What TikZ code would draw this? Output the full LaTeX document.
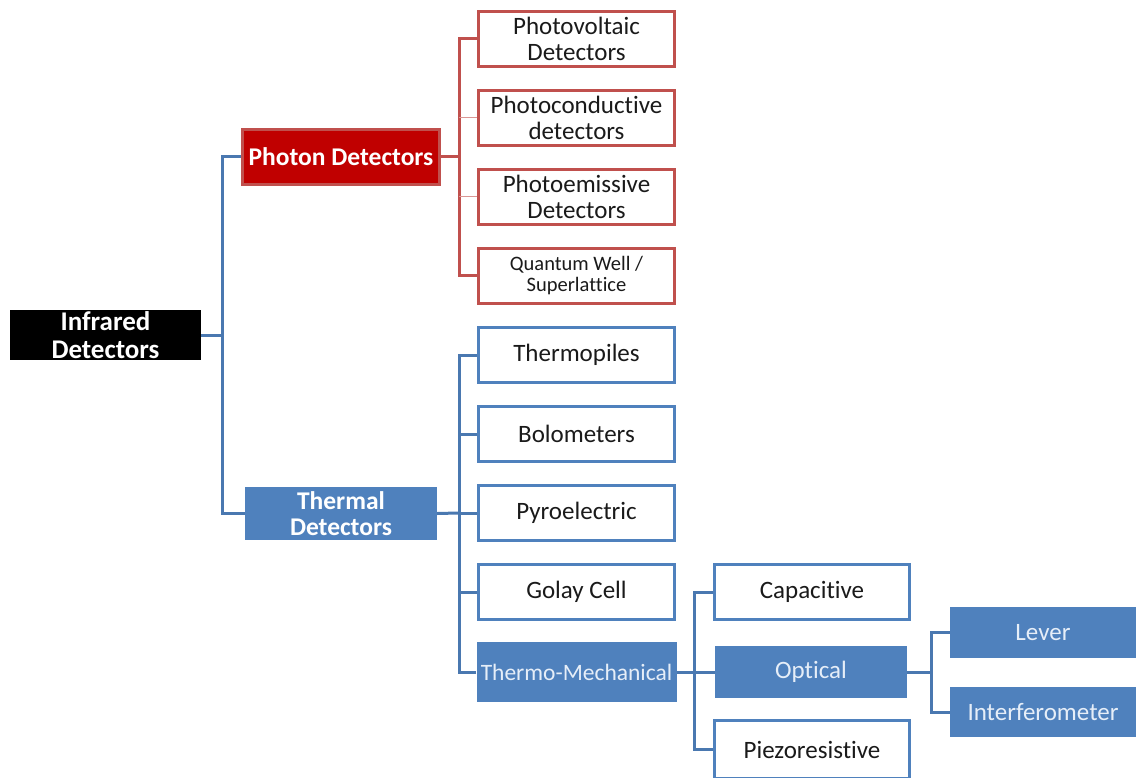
\documentclass[tikz,border=0pt]{standalone}
\usepackage{fontspec}
\setmainfont{Carlito}[Ligatures=NoCommon]
\definecolor{bl}{HTML}{4F81BD}
\definecolor{blc}{HTML}{4A78B0}
\definecolor{rd}{HTML}{C0504D}
\definecolor{drd}{HTML}{C00000}
\definecolor{lt}{HTML}{E6EEF8}
\definecolor{tx}{HTML}{1A1A1A}
\tikzset{
  base/.style={rectangle, inner sep=0pt, align=center, font=\fontsize{25}{26}\selectfont},
  redbox/.style={base, draw=rd, line width=3pt, fill=white, text=tx, minimum width=199pt, minimum height=58pt},
  bluebox/.style={base, draw=bl, line width=3pt, fill=white, text=tx, minimum width=199pt, minimum height=58pt},
  fillbox/.style={base, fill=bl, text=lt, minimum width=199pt, minimum height=58pt},
  conn/.style={draw=blc, line width=3pt, line join=miter},
  rconn/.style={draw=rd, line width=3pt},
  rthin/.style={draw=rd!60, line width=1pt},
}
\begin{document}
\begin{tikzpicture}[x=1pt,y=-1pt]
\useasboundingbox (0,0) rectangle (1136,778);
% main nodes
\node[base, fill=black, text=white, font=\bfseries\fontsize{27}{28}\selectfont, minimum width=191pt, minimum height=50pt] (root) at (105.5,335) {Infrared\\Detectors};
\node[base, fill=drd, draw=rd, line width=3pt, text=white, font=\bfseries\fontsize{25.5}{26}\selectfont, minimum width=197pt, minimum height=55pt] (photon) at (341,157) {Photon Detectors};
\node[fillbox, text=white, font=\bfseries\fontsize{25.5}{26}\selectfont, minimum width=192pt, minimum height=53pt] (thermal) at (341,513.5) {Thermal\\Detectors};
% photon children
\node[redbox, minimum width=196pt, minimum height=55pt] (pv) at (576.5,39) {Photovoltaic\\Detectors};
\node[redbox, minimum width=196pt, minimum height=55pt] (pc) at (576.5,118) {Photoconductive\\detectors};
\node[redbox, minimum width=196pt, minimum height=55pt] (pe) at (576.5,197) {Photoemissive\\Detectors};
\node[redbox, minimum width=196pt, minimum height=55pt, font=\fontsize{20.5}{21}\selectfont] (qw) at (576.5,276) {Quantum Well /\\Superlattice};
% thermal children
\node[bluebox, minimum width=196pt, minimum height=55pt] (tp) at (576.5,355) {Thermopiles};
\node[bluebox, minimum width=196pt, minimum height=55pt] (bo) at (576.5,434) {Bolometers};
\node[bluebox, minimum width=196pt, minimum height=55pt] (py) at (576.5,513) {Pyroelectric};
\node[bluebox, minimum width=196pt, minimum height=55pt] (gc) at (576.5,592) {Golay Cell};
\node[fillbox, minimum width=200pt, minimum height=60pt, font=\fontsize{23.5}{25}\selectfont] (tm) at (576.5,672) {Thermo-Mechanical};
% thermo-mechanical children
\node[bluebox, minimum width=195pt, minimum height=55pt] (cap) at (812,592) {Capacitive};
\node[fillbox, minimum width=192pt, minimum height=52pt] (opt) at (811,672) {Optical};
\node[bluebox, minimum width=195pt, minimum height=58pt] (pz) at (812,749.5) {Piezoresistive};
% optical children
\node[fillbox, minimum width=186pt, minimum height=51pt] (lev) at (1043,632.5) {Lever};
\node[fillbox, minimum width=186pt, minimum height=50pt] (int) at (1043,712) {Interferometer};
% connectors
\coordinate (rj) at (222,335);
\draw[conn] (root.east) -- (rj);
\draw[conn] (photon.west) -| (rj);
\draw[conn] (thermal.west) -| (rj);
\coordinate (pj) at (459,157);
\draw[rconn] (photon.east) -- (pj);
\draw[rconn] (pv.west) -| (pj);
\draw[rconn] (qw.west) -| (pj);
\draw[rthin] (pc.west) -- (pc.west -| pj);
\draw[rthin] (pe.west) -- (pe.west -| pj);
\coordinate (tj) at (459,513);
\draw[conn] (thermal.east) -- (tj);
\draw[conn] (tp.west) -| (tj);
\draw[conn] (tm.west) -| (tj);
\draw[conn] (bo.west) -- (bo.west -| tj);
\draw[conn] (py.west) -- (py.west -| tj);
\draw[conn] (gc.west) -- (gc.west -| tj);
\coordinate (mj) at (694,672);
\draw[conn] (tm.east) -- (mj);
\draw[conn] (cap.west) -| (mj);
\draw[conn] (pz.west) -| (mj);
\draw[conn] (opt.west) -- (mj);
\coordinate (oj) at (931,672);
\draw[conn] (opt.east) -- (oj);
\draw[conn] (lev.west) -| (oj);
\draw[conn] (int.west) -| (oj);
\end{tikzpicture}
\end{document}
